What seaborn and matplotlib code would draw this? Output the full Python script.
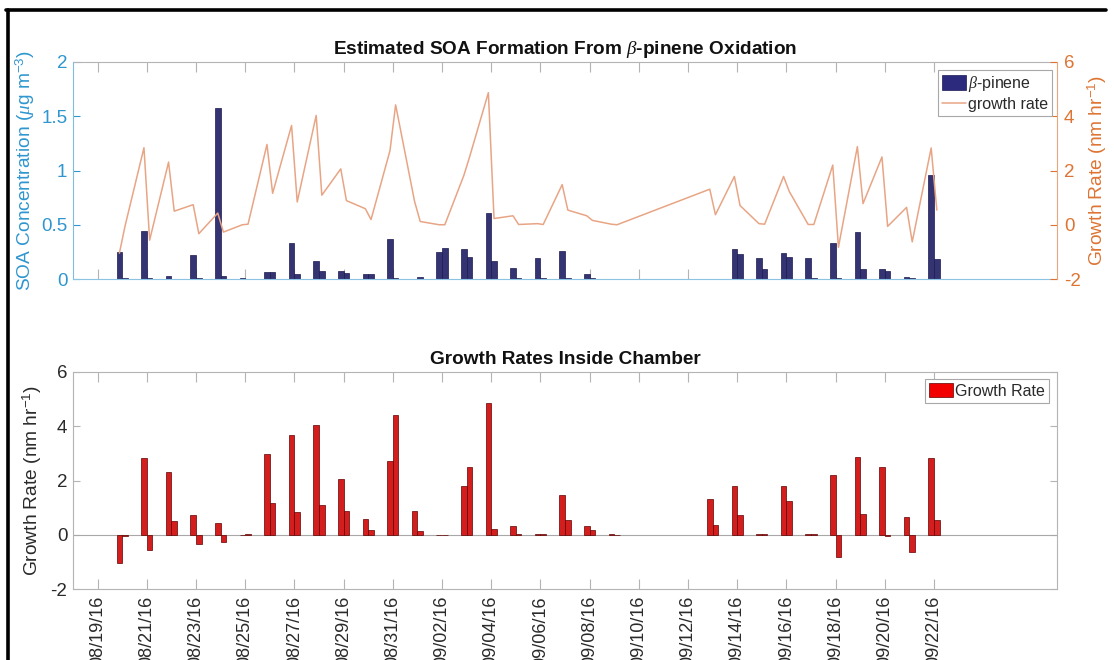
import numpy as np
import pandas as pd
import matplotlib
matplotlib.use("Agg")
import matplotlib.pyplot as plt
import matplotlib.dates as mdates
from matplotlib.patches import Patch
from matplotlib.lines import Line2D
import seaborn as sns

sns.set_style("white")
plt.rcParams["font.family"] = ["Liberation Sans", "DejaVu Sans"]
plt.rcParams["mathtext.fontset"] = "custom"
plt.rcParams["mathtext.rm"] = "Liberation Sans"
plt.rcParams["mathtext.it"] = "Liberation Serif:italic"
plt.rcParams["mathtext.bf"] = "Liberation Sans:bold"

# Sampling days (two chamber runs per day: early and late)
days = ["2016-08-20", "2016-08-21", "2016-08-22", "2016-08-23", "2016-08-24",
        "2016-08-25", "2016-08-26", "2016-08-27", "2016-08-28", "2016-08-29",
        "2016-08-30", "2016-08-31", "2016-09-01", "2016-09-02", "2016-09-03",
        "2016-09-04", "2016-09-05", "2016-09-06", "2016-09-07", "2016-09-08",
        "2016-09-09", "2016-09-13", "2016-09-14", "2016-09-15", "2016-09-16",
        "2016-09-17", "2016-09-18", "2016-09-19", "2016-09-20", "2016-09-21",
        "2016-09-22"]

# Particle growth rate (nm/hr)
gr_early = [-1.05, 2.84, 2.31, 0.74, 0.43, 0.00, 2.96, 3.66, 4.03, 2.06,
            0.59, 2.73, 0.86, 0.00, 1.81, 4.87, 0.33, 0.04, 1.48, 0.33,
            0.02, 1.31, 1.78, 0.04, 1.78, 0.01, 2.20, 2.88, 2.50, 0.64,
            2.83]
gr_late = [-0.05, -0.57, 0.50, -0.33, -0.27, 0.02, 1.16, 0.84, 1.09, 0.89,
           0.19, 4.42, 0.12, 0.00, 2.48, 0.23, 0.01, 0.01, 0.54, 0.16,
           0.00, 0.37, 0.71, 0.02, 1.23, 0.01, -0.83, 0.78, -0.06, -0.63,
           0.54]

# Estimated SOA from beta-pinene oxidation (ug/m3)
soa_early = [0.25, 0.44, 0.03, 0.22, 1.58, 0.01, 0.06, 0.335, 0.165, 0.07,
             0.045, 0.365, 0.00, 0.245, 0.28, 0.61, 0.10, 0.19, 0.26, 0.045,
             0.00, 0.00, 0.28, 0.19, 0.24, 0.19, 0.33, 0.43, 0.095, 0.015,
             0.96]
soa_late = [0.01, 0.005, 0.00, 0.01, 0.03, 0.00, 0.065, 0.045, 0.07, 0.055,
            0.045, 0.01, 0.015, 0.29, 0.20, 0.17, 0.005, 0.005, 0.01, 0.01,
            0.00, 0.00, 0.235, 0.09, 0.20, 0.005, 0.005, 0.095, 0.077, 0.006,
            0.185]

tick_labels = ["08/19/16", "08/21/16", "08/23/16", "08/25/16", "08/27/16",
               "08/29/16", "08/31/16", "09/02/16", "09/04/16", "09/06/16",
               "09/08/16", "09/10/16", "09/12/16", "09/14/16", "09/16/16",
               "09/18/16", "09/20/16", "09/22/16"]
x_start, x_end = "2016-08-18", "2016-09-27"

BLUE = "#2B2A7C"
BLUE_EDGE = "#1A1950"
RED = "#F20000"
RED_EDGE = "#600000"
LINE_ORANGE = "#E8A585"
AX_BLUE = "#2F96CF"
AX_ORANGE = "#DD7433"
SPINE = "#B4B4B4"
TEXT = "#2A2A2A"

TICK_FS = 13.5
DATE_FS = 13
LABEL_FS = 13.8
TITLE_FS = 13.7
LEGEND_FS = 11.5

x = mdates.date2num(pd.to_datetime(days).to_numpy())
n = len(days)
slots = ["early"] * n + ["late"] * n
df_soa = pd.DataFrame({"day": np.concatenate([x, x]), "slot": slots,
                       "soa": soa_early + soa_late})
df_gr = pd.DataFrame({"day": np.concatenate([x, x]), "slot": slots,
                      "rate": gr_early + gr_late})

BAR_WIDTH = 0.46
off = BAR_WIDTH / 4.0
df_line = pd.DataFrame({"pos": np.concatenate([x - off, x + off]),
                        "rate": gr_early + gr_late}).sort_values("pos")

tick_pos = mdates.date2num(pd.to_datetime(tick_labels, format="%m/%d/%y").to_numpy())
xlim = mdates.date2num(pd.to_datetime([x_start, x_end]).to_numpy())

W, H = 1114, 660
fig = plt.figure(figsize=(W / 100, H / 100), dpi=100)
fig.patch.set_facecolor("white")

ax1 = fig.add_axes([73 / W, 1 - 279 / H, 984 / W, 217 / H])
ax3 = fig.add_axes([73 / W, 1 - 589 / H, 984 / W, 217 / H])

# ---- upper panel: SOA bars with growth-rate line on right axis ----
sns.barplot(data=df_soa, x="day", y="soa", hue="slot", hue_order=["early", "late"],
            native_scale=True, width=BAR_WIDTH, dodge=True,
            palette=[BLUE, BLUE], edgecolor=BLUE_EDGE, linewidth=0.5,
            errorbar=None, legend=False, ax=ax1, zorder=2)
ax2 = ax1.twinx()
sns.lineplot(data=df_line, x="pos", y="rate", estimator=None, sort=True,
             color=LINE_ORANGE, linewidth=1.1, ax=ax2)

ax1.set_xlim(*xlim)
ax1.set_ylim(0, 2)
ax2.set_ylim(-2, 6)
ax1.set_yticks([0, 0.5, 1, 1.5, 2])
ax1.set_yticklabels(["0", "0.5", "1", "1.5", "2"])
ax2.set_yticks([-2, 0, 2, 4, 6])
ax2.set_yticklabels(["-2", "0", "2", "4", "6"])
ax1.set_xticks(tick_pos)
ax1.set_xticklabels([])
ax1.set_xlabel("")
ax1.set_ylabel(r"SOA Concentration ($\mu$g m$^{-3}$)", color=AX_BLUE, fontsize=LABEL_FS)
ax1.yaxis.set_label_coords(-0.037, 0.5)
ax2.set_ylabel(r"Growth Rate (nm hr$^{-1}$)", color=AX_ORANGE, fontsize=LABEL_FS,
               rotation=90)
ax2.yaxis.set_label_coords(1.029, 0.5)
ax2.set_xlabel("")

ax1.tick_params(axis="x", which="both", direction="in", top=True, bottom=True,
                length=7, width=0.8, color=SPINE)
ax1.tick_params(axis="y", direction="in", left=True, right=False, length=5,
                width=0.8, color=AX_BLUE, labelcolor=AX_BLUE, labelsize=TICK_FS, pad=4)
ax2.tick_params(axis="y", direction="in", right=True, left=False, length=5,
                width=0.8, color=AX_ORANGE, labelcolor=AX_ORANGE, labelsize=TICK_FS, pad=5)

ax1.spines["top"].set_color(SPINE)
ax1.spines["left"].set_color("#7FBCDF")
ax1.spines["bottom"].set_color("#8CC3E2")
ax1.spines["right"].set_visible(False)
for s in ("left", "top", "bottom"):
    ax2.spines[s].set_visible(False)
ax2.spines["right"].set_color("#E9A67E")
for a in (ax1, ax2):
    for sp in a.spines.values():
        sp.set_linewidth(0.8)

ax1.set_title(r"Estimated SOA Formation From $\beta$-pinene Oxidation",
              fontsize=TITLE_FS, fontweight="bold", color="#111111", pad=6)

leg1 = ax2.legend(handles=[Patch(facecolor=BLUE, edgecolor=BLUE_EDGE, linewidth=0.5),
                           Line2D([], [], color=LINE_ORANGE, linewidth=1.1)],
                  labels=[r"$\beta$-pinene", "growth rate"],
                  loc="upper right", bbox_to_anchor=(0.995, 0.963),
                  borderaxespad=0, fancybox=False, framealpha=1,
                  edgecolor="#A8A8A8", fontsize=LEGEND_FS, handlelength=1.5,
                  handleheight=1.0, handletextpad=0.15, labelspacing=0.15,
                  borderpad=0.25)
leg1.get_frame().set_linewidth(0.8)
for t in leg1.get_texts():
    t.set_color(TEXT)

# ---- lower panel: growth rate bars ----
ax3.axhline(0, color="#A8A8A8", linewidth=0.8, zorder=1)
sns.barplot(data=df_gr, x="day", y="rate", hue="slot", hue_order=["early", "late"],
            native_scale=True, width=BAR_WIDTH, dodge=True,
            palette=[RED, RED], edgecolor=RED_EDGE, linewidth=0.5,
            errorbar=None, legend=False, ax=ax3, zorder=2)
ax3.set_xlim(*xlim)
ax3.set_ylim(-2, 6)
ax3.set_yticks([-2, 0, 2, 4, 6])
ax3.set_yticklabels(["-2", "0", "2", "4", "6"])
ax3.set_xticks(tick_pos)
ax3.set_xticklabels(tick_labels, rotation=90)
ax3.set_xlabel("")
ax3.set_ylabel(r"Growth Rate (nm hr$^{-1}$)", fontsize=LABEL_FS, color=TEXT)
ax3.yaxis.set_label_coords(-0.029, 0.5)
ax3.tick_params(axis="x", which="both", direction="in", top=True, bottom=True,
                length=7, width=0.8, color=SPINE, labelcolor=TEXT, labelsize=DATE_FS, pad=5)
ax3.tick_params(axis="y", direction="in", left=True, right=True, length=5,
                width=0.8, color=SPINE, labelcolor=TEXT, labelsize=TICK_FS, pad=4)
for sp in ax3.spines.values():
    sp.set_color(SPINE)
    sp.set_linewidth(0.8)
ax3.set_title("Growth Rates Inside Chamber", fontsize=TITLE_FS, fontweight="bold",
              color="#111111", pad=6)

leg3 = ax3.legend(handles=[Patch(facecolor=RED, edgecolor=RED_EDGE, linewidth=0.5)],
                  labels=["Growth Rate"], loc="upper right",
                  bbox_to_anchor=(0.992, 0.968), borderaxespad=0, fancybox=False,
                  framealpha=1, edgecolor="#A8A8A8", fontsize=LEGEND_FS,
                  handlelength=1.5, handleheight=1.0, handletextpad=0.15,
                  borderpad=0.25)
leg3.get_frame().set_linewidth(0.8)
for t in leg3.get_texts():
    t.set_color(TEXT)

# outer frame (left and top edges)
fig.add_artist(Line2D([7.5 / W, 7.5 / W], [0, 1 - 9.5 / H], transform=fig.transFigure,
                      color="black", linewidth=2.6))
fig.add_artist(Line2D([6.2 / W, 1 - 8 / W], [1 - 9.5 / H, 1 - 9.5 / H],
                      transform=fig.transFigure, color="black", linewidth=2.6))

fig.savefig("out.png", dpi=100, facecolor="white")
